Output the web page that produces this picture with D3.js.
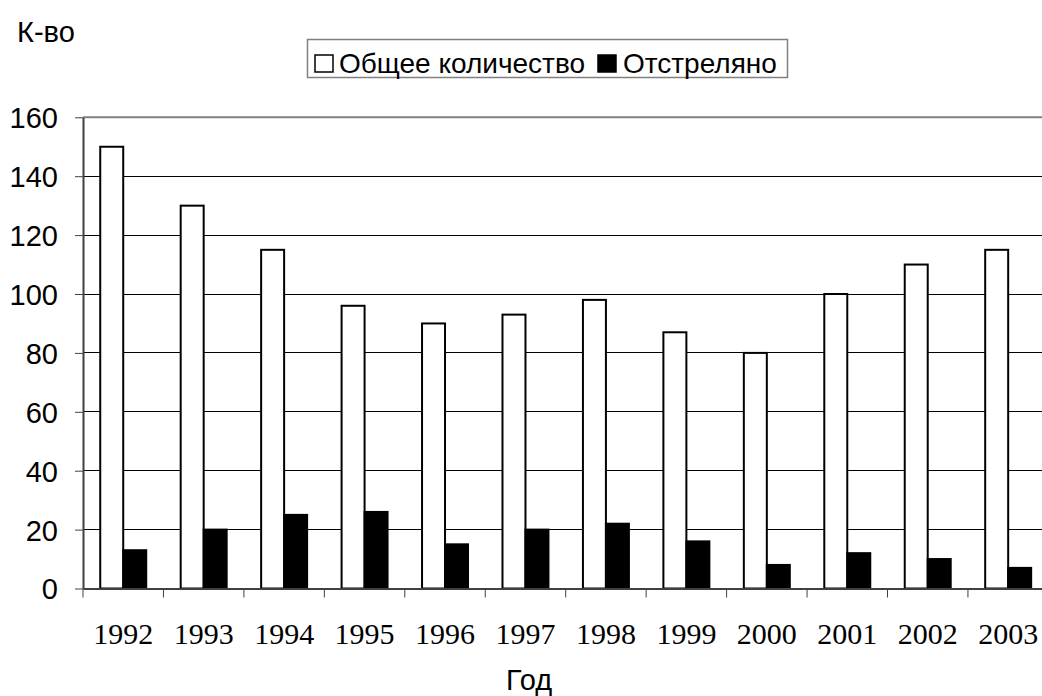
<!DOCTYPE html>
<html><head><meta charset="utf-8">
<script src="https://cdn.jsdelivr.net/npm/d3@7"></script>
<style>body{margin:0;background:#fff;} svg{display:block;}</style>
</head><body>
<svg id="chart" width="1042" height="696"></svg>
<script>
const years = ["1992","1993","1994","1995","1996","1997","1998","1999","2000","2001","2002","2003"];
const seriesNames = ["Общее количество","Отстреляно"];
const totalValues = [150,130,115,96,90,93,98,87,80,100,110,115];
const shotValues = [13,20,25,26,15,20,22,16,8,12,10,7];
const yTicks = [0,20,40,60,80,100,120,140,160];
const yTitle = "К-во";
const xTitle = "Год";

(function(){
const svg = d3.select("#chart");
const pLeft = 83, pTop = 117.3, pBottom = 588.5, band = 80.45;
const pRight = pLeft + band * years.length;

const x0 = d3.scaleBand().domain(years).range([pLeft, pRight]).padding(0);
const x1 = d3.scaleBand().domain(seriesNames).range([0, x0.bandwidth()]).paddingInner(0).paddingOuter(0.75);
const y = d3.scaleLinear().domain([0,160]).range([pBottom, pTop]);

const sans = "'Liberation Sans', Arial, sans-serif";
const serif = "'Liberation Serif', 'Times New Roman', serif";

// gridlines
svg.append("g").selectAll("line").data(yTicks.filter(d => d > 0 && d < 160)).join("line")
  .attr("x1", pLeft).attr("x2", pRight).attr("y1", d => y(d)).attr("y2", d => y(d))
  .attr("stroke", "#000").attr("stroke-width", 1).attr("shape-rendering","crispEdges");
// plot border top
svg.append("line").attr("x1", pLeft).attr("x2", pRight).attr("y1", y(160)).attr("y2", y(160))
  .attr("stroke", "#808080").attr("stroke-width", 2);

// y axis
const yAxis = d3.axisLeft(y).tickValues(yTicks).tickSize(8).tickPadding(17).tickSizeOuter(0);
const gy = svg.append("g").attr("transform", `translate(${pLeft},0)`).call(yAxis);
gy.select(".domain").attr("stroke", "#404040").attr("stroke-width", 2);
gy.selectAll(".tick line").attr("stroke", "#404040").attr("stroke-width", 1);
gy.selectAll(".tick text").attr("font-family", sans).attr("font-size", 29).attr("fill", "#000").attr("dy", "0.36em");

// bars
const data = years.map((yr, i) => ({yr, vals: [totalValues[i], shotValues[i]]}));
const groups = svg.append("g").selectAll("g").data(data).join("g")
  .attr("transform", d => `translate(${x0(d.yr)},0)`);
groups.selectAll("rect").data(d => d.vals.map((v, j) => ({name: seriesNames[j], v}))).join("rect")
  .attr("x", d => x1(d.name)).attr("width", x1.bandwidth())
  .attr("y", d => y(d.v)).attr("height", d => pBottom - y(d.v))
  .attr("fill", d => d.name === seriesNames[0] ? "#fff" : "#000")
  .attr("stroke", "#000").attr("stroke-width", 2);

// x axis
const xAxis = d3.axisBottom(x0).tickSize(0).tickPadding(34);
const gx = svg.append("g").attr("transform", `translate(0,${pBottom})`).call(xAxis);
gx.select(".domain").attr("stroke", "#404040").attr("stroke-width", 2);
gx.selectAll(".tick text").attr("font-family", serif).attr("font-size", 30).attr("fill", "#000").attr("dy", "0.71em");
// category boundary ticks
svg.append("g").selectAll("line").data(years).join("line")
  .attr("x1", d => x0(d)).attr("x2", d => x0(d)).attr("y1", pBottom).attr("y2", pBottom + 9)
  .attr("stroke", "#404040").attr("stroke-width", 1);

// titles
svg.append("text").attr("x", 17).attr("y", 42).attr("font-family", sans).attr("font-size", 29).text(yTitle);
svg.append("text").attr("x", 529).attr("y", 690).attr("text-anchor","middle").attr("font-family", sans).attr("font-size", 29).text(xTitle);

// legend
const lg = svg.append("g");
lg.append("rect").attr("x", 307.5).attr("y", 39.5).attr("width", 480).attr("height", 38)
  .attr("fill", "#fff").attr("stroke", "#808080").attr("stroke-width", 1.5);
const legendItems = [{name: seriesNames[0], fill: "#fff", mx: 315, tx: 339}, {name: seriesNames[1], fill: "#000", mx: 598, tx: 623}];
legendItems.forEach(it => {
  lg.append("rect").attr("x", it.mx).attr("y", 55).attr("width", 18).attr("height", 17)
    .attr("fill", it.fill).attr("stroke", "#000").attr("stroke-width", 1.5);
  lg.append("text").attr("x", it.tx).attr("y", 73).attr("font-family", sans).attr("font-size", 28).text(it.name);
});
})();
</script>
</body></html>
